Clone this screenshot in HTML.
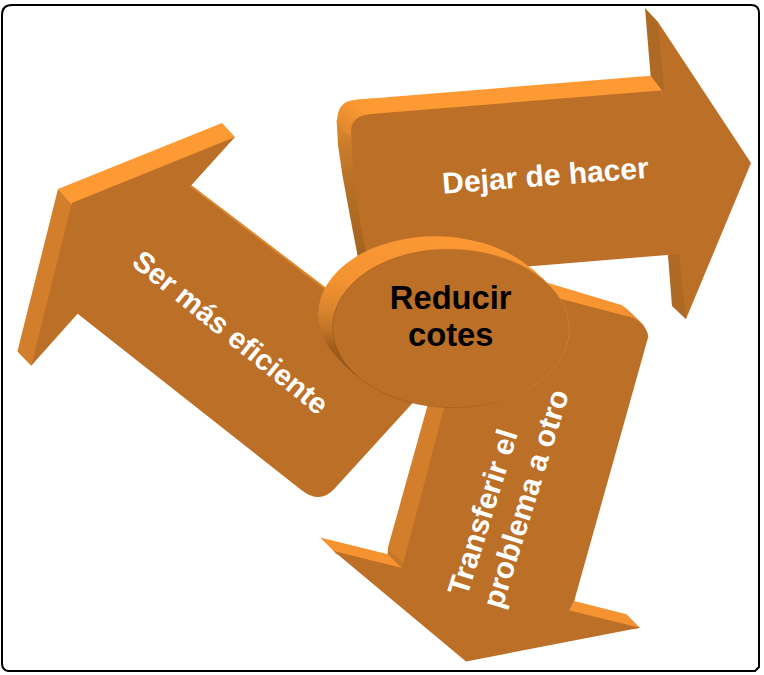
<!DOCTYPE html>
<html>
<head>
<meta charset="utf-8">
<title>Reducir cotes</title>
<style>
html,body{margin:0;padding:0;background:#fff;}
body{width:764px;height:675px;overflow:hidden;font-family:"Liberation Sans",sans-serif;}
svg{display:block;}
text{font-family:"Liberation Sans",sans-serif;font-weight:bold;}
</style>
</head>
<body>
<svg width="764" height="675" viewBox="0 0 764 675">
<defs>
  <linearGradient id="rimG" gradientUnits="userSpaceOnUse" x1="400" y1="236" x2="392" y2="378">
    <stop offset="0" stop-color="#FB9833"/>
    <stop offset="0.36" stop-color="#F29231"/>
    <stop offset="0.55" stop-color="#DB852D"/>
    <stop offset="0.70" stop-color="#C07426"/>
    <stop offset="0.82" stop-color="#A05E1C"/>
    <stop offset="1" stop-color="#8F5317"/>
  </linearGradient>
  <linearGradient id="tlStrip" gradientUnits="userSpaceOnUse" x1="340" y1="122" x2="358" y2="256">
    <stop offset="0" stop-color="#DF882E"/>
    <stop offset="0.15" stop-color="#CD7D2A"/>
    <stop offset="0.45" stop-color="#B87026"/>
    <stop offset="1" stop-color="#A5631F"/>
  </linearGradient>
  <linearGradient id="tlCorner" gradientUnits="userSpaceOnUse" x1="338" y1="128" x2="358" y2="102">
    <stop offset="0" stop-color="#DF882E"/>
    <stop offset="1" stop-color="#FD9A34"/>
  </linearGradient>
  <linearGradient id="bTop" gradientUnits="userSpaceOnUse" x1="555" y1="290" x2="645" y2="325">
    <stop offset="0" stop-color="#FB9833"/>
    <stop offset="0.75" stop-color="#F59331"/>
    <stop offset="1" stop-color="#D98029"/>
  </linearGradient>
  <linearGradient id="edgeG" gradientUnits="userSpaceOnUse" x1="340" y1="400" x2="565" y2="300">
    <stop offset="0" stop-color="#8A5016"/>
    <stop offset="0.5" stop-color="#9A5A1B"/>
    <stop offset="0.75" stop-color="#D08230"/>
    <stop offset="1" stop-color="#DA8A34"/>
  </linearGradient>
</defs>

<rect x="0" y="0" width="764" height="675" fill="#ffffff"/>

<!-- frame -->
<path d="M2 15 Q2 5 12 5 L751 5 Q759 5 759 13 L759 667 L755 671 L8 671 Q2 670 2 663 Z" fill="none" stroke="#000" stroke-width="2"/>

<!-- ================= LEFT ARROW (Ser más eficiente) ================= -->
<g id="leftArrow">
  <!-- top light strip -->
  <polygon points="58,189 222,123 235,137 229,142 73,208" fill="#FD9A34"/>
  <!-- left mid strip -->
  <polygon points="58,189 71,204 75,208 33.200,362.500 31.200,365.800 17.400,351.600" fill="#D27E2B"/>
  <!-- upper body edge thin strip -->
  <polygon points="188.500,186.300 190.600,184.400 345.400,302.600 343,309 188,191" fill="#DE862D"/>
  <!-- face -->
  <path d="M71.800 203 L235 137 L190.200 186.600 L437.500 375.800 L334.200 489.100 Q320 504.600 301.300 489.900 L77.600 313.800 L31.200 365.800 Z" fill="#BC6F27"/>
</g>

<!-- ================= TOP ARROW (Dejar de hacer) ================= -->
<g id="topArrow">
  <!-- left strip + corner + top strip (back silhouette) -->
  <path d="M357.700 256.200 L350.100 216.800 L342.300 174.500 L338 145 L336.600 120 L366 130 L372 262 Z" fill="url(#tlStrip)"/>
  <path d="M337 124 Q336.300 101.500 354 99.900 L374 98.300 L374 135 L348 135 Z" fill="url(#tlCorner)"/>
  <polygon points="353,100 650.600,75.700 664,90.300 664,93 369,117" fill="#FD9A34"/>
  <!-- head dark strips -->
  <polygon points="645,8 658,22 659.500,26.500 667,90 664,93 650.600,75.700" fill="#AE6A24"/>
  <polygon points="668,256 668.500,252.500 681,251.500 686.300,316 686,319.300 672,306" fill="#AE6A24"/>
  <!-- face -->
  <path d="M351.100 133 Q350.300 115.600 370.700 113.900 L664 90.300 L658 22 L751 163 L686 319 L679 254 L540 265.500 L372 279 L366.200 252 L359.200 216.800 L353.500 174.500 Z" fill="#BC6F27"/>
</g>

<!-- ================= BOTTOM ARROW (Transferir el problema a otro) ================= -->
<g id="bottomArrow">
  <!-- top strip -->
  <path d="M520 274.500 L621.400 304.900 Q625 306 643 324.500 L648 334 L640 336 L520 300 Z" fill="url(#bTop)"/>
  <!-- left mid strip -->
  <polygon points="435.200,378 470,378 408,560 405,570 400.500,569.500 387.500,556 388.100,547" fill="#D27E2B"/>
  <!-- left head light strip -->
  <polygon points="320.200,537.400 388.100,554.200 401.900,568 401,571 336,554 333.600,551" fill="#F59331"/>
  <polygon points="388,550.100 403.500,562 401.900,568 388.100,554.200" fill="#C6782A"/>
  <!-- right head light strip -->
  <polygon points="574.200,601.100 626.400,614.200 640,627.800 636,629 568,613 569.400,610.600" fill="#F59331"/>
  <!-- face -->
  <path d="M477.600 277 L629 316.700 Q645 321 648.300 336.500 L574.200 601.100 L569.400 610.600 L640 627.800 L466 661.500 L333.600 551 L401.900 568 L404.200 559.700 L443.800 409.300 L477.600 281 Z" fill="#BC6F27"/>
</g>

<!-- ================= CENTER ELLIPSE ================= -->
<g id="center">
  <polygon points="545.900,281.200 531.600,268.300 341.600,362.700 355.900,375.600" fill="url(#rimG)"/>
  <ellipse cx="436.600" cy="315.500" rx="118.400" ry="79.200" transform="rotate(0.900 436.600 315.500)" fill="url(#rimG)"/>
  <ellipse cx="450.900" cy="328.400" rx="118.400" ry="79.200" transform="rotate(0.900 450.900 328.400)" fill="#BC6F27" stroke="url(#edgeG)" stroke-opacity="0.6" stroke-width="0.800"/>
</g>

<!-- ================= TEXT ================= -->
<text x="450.700" y="308.600" font-size="32.700" text-anchor="middle" fill="#000">Reducir</text>
<text x="450.700" y="346.400" font-size="32.700" text-anchor="middle" fill="#000">cotes</text>

<text transform="translate(546.200,185.700) rotate(-4.400)" x="0" y="0" font-size="30" text-anchor="middle" fill="#fff">Dejar de hacer</text>

<text transform="translate(224.400,340.200) rotate(38.900)" x="0" y="0" font-size="29.300" text-anchor="middle" fill="#fff">Ser más eficiente</text>

<g fill="#fff" font-size="30">
  <text transform="translate(467,597.300) rotate(-72.700)" x="0" y="0">Transferir el</text>
  <text transform="translate(501.700,609.900) rotate(-72.700)" x="0" y="0">problema a otro</text>
</g>
</svg>
</body>
</html>
